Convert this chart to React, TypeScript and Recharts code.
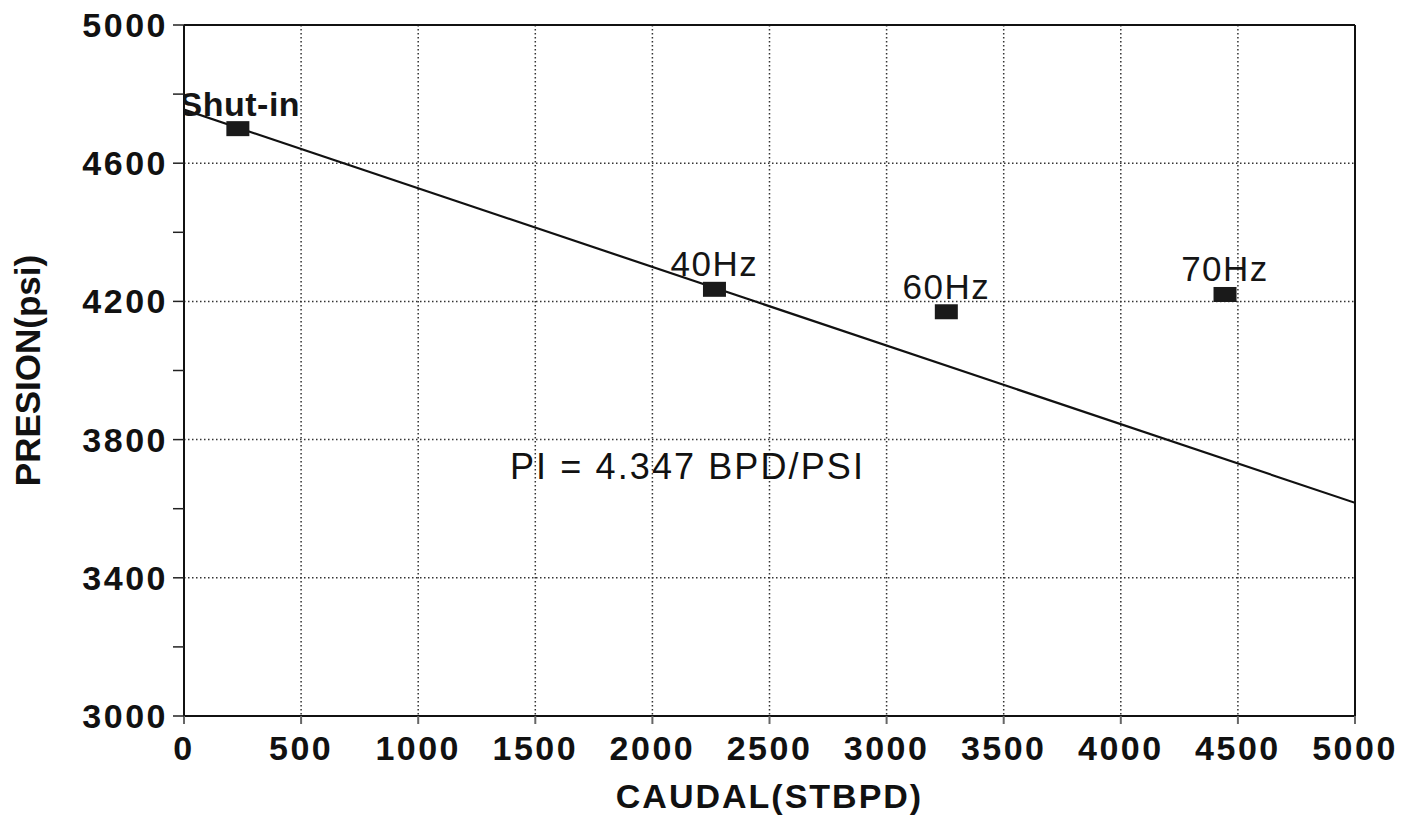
import React from 'react';
import {
  ScatterChart,
  Scatter,
  XAxis,
  YAxis,
  CartesianGrid,
  ReferenceLine,
  ReferenceDot,
} from 'recharts';

// ---- data ----
const X_TICKS = [0, 500, 1000, 1500, 2000, 2500, 3000, 3500, 4000, 4500, 5000];
const Y_TICKS = [3000, 3200, 3400, 3600, 3800, 4000, 4200, 4400, 4600, 4800, 5000];
const GRID_X = [500, 1000, 1500, 2000, 2500, 3000, 3500, 4000, 4500];
const GRID_Y = [3400, 3800, 4200, 4600];

const POINT_LABELS = ['Shut-in', '40Hz', '60Hz', '70Hz'];
const POINT_Q = [230, 2265, 3255, 4445];
const POINT_P = [4700, 4235, 4170, 4220];

const LINE_Q = [0, 5000];
const LINE_P = [4755, 3617];

const PI_TEXT = 'PI = 4.347 BPD/PSI';
const PI_Q = 1392;
const PI_P = 3686;

const X_TITLE = 'CAUDAL(STBPD)';
const Y_TITLE = 'PRESION(psi)';

const points = POINT_LABELS.map((label, i) => ({ x: POINT_Q[i], y: POINT_P[i], label }));
const linePts = LINE_Q.map((q, i) => ({ x: q, y: LINE_P[i] }));

const FONT = '"Liberation Sans", Arial, Helvetica, sans-serif';

const MarkerShape = (props: any) => {
  const { cx, cy, payload } = props;
  const isShut = payload.label === 'Shut-in';
  return (
    <g>
      <rect x={cx - 11.5} y={cy - 7.5} width={23} height={15} fill="#1a1a1a" />
      <text
        x={cx + (isShut ? 2 : 0)}
        y={cy - 13}
        textAnchor="middle"
        fontFamily={FONT}
        fontSize={isShut ? 34 : 35}
        fontWeight={isShut ? 700 : 400}
        letterSpacing={isShut ? 0.5 : 1.5}
        fill="#151515"
      >
        {payload.label}
      </text>
    </g>
  );
};

const EmptyShape = () => <g />;

const PiShape = (props: any) => {
  const { cx, cy } = props;
  return (
    <text x={cx} y={cy} textAnchor="start" fontFamily={FONT} fontSize={36} letterSpacing={2.1} fill="#111">
      {PI_TEXT}
    </text>
  );
};

const YTitle = (props: any) => {
  const vb = props.viewBox || { x: 0, y: 25, width: 184, height: 691 };
  const cy = vb.y + vb.height / 2;
  const cx = 40;
  return (
    <text
      x={cx}
      y={cy}
      transform={`rotate(-90, ${cx}, ${cy})`}
      textAnchor="middle"
      fontFamily={FONT}
      fontSize={35}
      fontWeight={700}
      fill="#111"
    >
      {Y_TITLE}
    </text>
  );
};

const XTitle = (props: any) => {
  const vb = props.viewBox || { x: 184, y: 716, width: 1171, height: 105 };
  const cx = vb.x + vb.width / 2;
  return (
    <text
      x={cx}
      y={808}
      textAnchor="middle"
      fontFamily={FONT}
      fontSize={34}
      fontWeight={700}
      letterSpacing={2}
      fill="#111"
    >
      {X_TITLE}
    </text>
  );
};

const tickStyle = { fontFamily: FONT, fontSize: 34, fontWeight: 700, fill: '#111', letterSpacing: 2.5 };

export default function App() {
  return (
    <div style={{ position: 'absolute', left: 0, top: 0, width: 1419, height: 821, background: '#fff' }}>
      <ScatterChart width={1419} height={821} margin={{ top: 25, right: 64, bottom: 0, left: 0 }}>
        <CartesianGrid
          stroke="#333"
          strokeWidth={1.5}
          strokeDasharray="1.5 2.5"
          verticalValues={GRID_X}
          horizontalValues={GRID_Y}
        />
        <XAxis
          type="number"
          dataKey="x"
          domain={[0, 5000]}
          ticks={X_TICKS}
          allowDataOverflow
          height={105}
          tick={tickStyle}
          tickSize={8}
          tickMargin={12}
          axisLine={{ stroke: '#111', strokeWidth: 2 }}
          tickLine={{ stroke: '#666', strokeWidth: 2 }}
          label={{ content: (p: any) => <XTitle {...p} /> }}
        />
        <YAxis
          type="number"
          dataKey="y"
          domain={[3000, 5000]}
          ticks={Y_TICKS}
          allowDataOverflow
          width={184}
          tick={tickStyle}
          tickSize={11}
          tickMargin={5}
          tickFormatter={(v: number) => ((v - 3000) % 400 === 0 ? String(v) : '')}
          axisLine={{ stroke: '#111', strokeWidth: 2 }}
          tickLine={{ stroke: '#222', strokeWidth: 1.5 }}
          label={{ content: (p: any) => <YTitle {...p} /> }}
        />
        <ReferenceLine y={5000} stroke="#111" strokeWidth={2} />
        <ReferenceLine x={5000} stroke="#111" strokeWidth={2} />
        <Scatter
          data={linePts}
          line={{ stroke: '#111', strokeWidth: 2.2 }}
          lineType="joint"
          shape={EmptyShape}
          legendType="none"
          isAnimationActive={false}
        />
        <Scatter data={points} shape={MarkerShape} isAnimationActive={false} />
        <ReferenceDot x={PI_Q} y={PI_P} r={0} shape={PiShape} />
      </ScatterChart>
    </div>
  );
}
